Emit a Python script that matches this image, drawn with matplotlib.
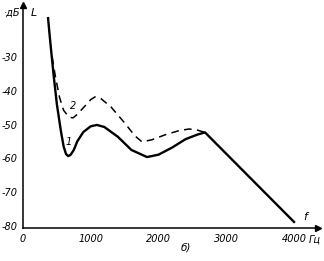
import matplotlib
matplotlib.use('Agg')
import matplotlib.pyplot as plt

# curve 1 (solid)
f1 = [370, 400, 450, 500, 560, 600, 635, 665, 700, 750, 800, 890, 1000, 1092, 1200, 1400, 1600, 1830, 2000, 2200, 2400, 2568, 2686, 4000]
L1 = [-18.5, -25, -35, -44, -52, -56.5, -58.7, -59.3, -59.0, -57.5, -55.0, -52.2, -50.5, -50.1, -50.7, -53.6, -57.5, -59.6, -58.9, -56.8, -54.3, -53.0, -52.3, -78.8]

# curve 2 (dashed)
f2 = [430, 480, 540, 600, 680, 738, 800, 900, 1000, 1063, 1150, 1300, 1500, 1650, 1756, 1900, 2100, 2300, 2450, 2568, 2686]
L2 = [-30, -36, -42, -45.8, -47.8, -48.0, -47.0, -44.8, -42.6, -41.8, -42.3, -44.8, -49.5, -53.3, -55.1, -54.5, -53.0, -51.8, -51.3, -51.6, -52.3]

xticks = [0, 1000, 2000, 3000, 4000]
yticks = [-30, -40, -50, -60, -70, -80]

fig = plt.figure(figsize=(3.24, 2.61), dpi=100)
ax = fig.add_axes([23/324, 33/261, 295/324, 223/261])
ax.plot(f1, L1, color='black', lw=1.7, solid_joinstyle='round')
ax.plot(f2, L2, color='black', lw=1.1, dashes=(5, 3.5))

ax.set_xlim(0, 4354)
ax.set_ylim(-80.6, -14.6)
ax.spines['top'].set_visible(False)
ax.spines['right'].set_visible(False)
ax.spines['left'].set_linewidth(1.1)
ax.spines['bottom'].set_linewidth(1.1)
ax.set_xticks(xticks)
ax.set_yticks(yticks)
ax.set_xticklabels([str(t) for t in xticks], style='italic', fontsize=7)
ax.set_yticklabels([str(t) for t in yticks], style='italic', fontsize=7)
ax.tick_params(length=0, pad=4)

# axis arrows
ax.plot(0, 1, '^', ms=4, color='black', transform=ax.transAxes, clip_on=False)
ax.plot(1, 0, '>', ms=4, color='black', transform=ax.transAxes, clip_on=False)

# labels
ax.text(-0.01, 0.965, '·дБ', transform=ax.transAxes, ha='right', va='center', style='italic', fontsize=7)
ax.text(0.025, 0.965, 'L', transform=ax.transAxes, ha='left', va='center', style='italic', fontsize=8)
ax.text(0.955, 0.05, 'f', transform=ax.transAxes, ha='center', va='center', style='italic', fontsize=8)
ax.text(0.968, -0.05, 'Гц', transform=ax.transAxes, ha='left', va='center', style='italic', fontsize=7)
ax.text(2400, -86.5, 'б)', ha='center', va='center', style='italic', fontsize=7.5)
ax.text(680, -55, '1', ha='center', va='center', style='italic', fontsize=7)
ax.text(740, -44.5, '2', ha='center', va='center', style='italic', fontsize=7)

fig.savefig('out.png', dpi=100)
